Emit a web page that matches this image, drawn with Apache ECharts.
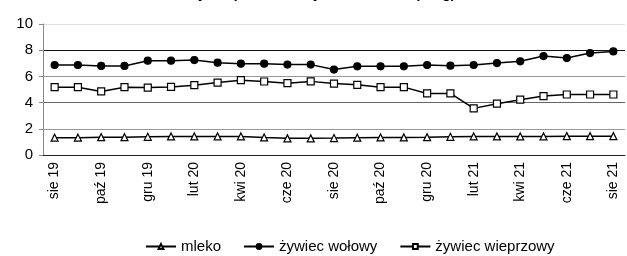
<!DOCTYPE html>
<html>
<head>
<meta charset="utf-8">
<script src="https://cdn.jsdelivr.net/npm/echarts@6/dist/echarts.min.js"></script>
<style>
  html, body { margin: 0; padding: 0; background: #fff; }
  #chart { width: 627px; height: 256px; }
</style>
</head>
<body>
<div id="chart"></div>
<script>
const months = [
  "sie 19", "wrz 19", "paź 19", "lis 19", "gru 19", "sty 20", "lut 20", "mar 20",
  "kwi 20", "maj 20", "cze 20", "lip 20", "sie 20", "wrz 20", "paź 20", "lis 20",
  "gru 20", "sty 21", "lut 21", "mar 21", "kwi 21", "maj 21", "cze 21", "lip 21", "sie 21"
];
const mleko = [
  1.32, 1.32, 1.36, 1.36, 1.39, 1.42, 1.42, 1.42, 1.42, 1.34, 1.27, 1.27, 1.29,
  1.32, 1.34, 1.34, 1.36, 1.39, 1.42, 1.42, 1.42, 1.42, 1.44, 1.44, 1.44
];
const wolowy = [
  6.87, 6.87, 6.80, 6.80, 7.20, 7.20, 7.25, 7.05, 6.97, 6.97, 6.90, 6.90, 6.52,
  6.77, 6.77, 6.77, 6.87, 6.82, 6.87, 7.02, 7.15, 7.55, 7.40, 7.78, 7.91
];
const wieprzowy = [
  5.18, 5.18, 4.85, 5.18, 5.15, 5.20, 5.33, 5.53, 5.71, 5.61, 5.48, 5.62, 5.45,
  5.36, 5.18, 5.18, 4.70, 4.70, 3.56, 3.92, 4.22, 4.50, 4.62, 4.62, 4.62
];
const yTicks = [0, 2, 4, 6, 8, 10];
const titleText = "Ceny skupu mleka i żywca w Polsce (zł/kg)";

const chart = echarts.init(document.getElementById("chart"));
const font = "Liberation Sans, Arial, sans-serif";

function lineSeries(name, data, symbol, size, fill) {
  return {
    name: name,
    type: "line",
    data: data,
    symbol: symbol,
    symbolSize: size,
    showAllSymbol: true,
    lineStyle: { color: "#000", width: 1.5 },
    itemStyle: { color: fill, borderColor: "#000", borderWidth: 1.2 },
    emphasis: { disabled: true },
    animation: false
  };
}

const option = {
  animation: false,
  textStyle: { fontFamily: font },
  title: {
    text: titleText,
    left: "center",
    top: -18,
    textStyle: { fontSize: 14, fontWeight: "bold", color: "#000", fontFamily: font }
  },
  grid: { left: 43, right: 2, top: 24, bottom: 101, containLabel: false },
  legend: {
    left: 140,
    top: 234,
    itemWidth: 30,
    itemHeight: 6,
    itemGap: 22,
    textStyle: { fontSize: 15, color: "#000", fontFamily: font },
    data: ["mleko", "żywiec wołowy", "żywiec wieprzowy"]
  },
  xAxis: {
    type: "category",
    data: months,
    boundaryGap: true,
    axisLine: { lineStyle: { color: "#222", width: 1 } },
    axisTick: { interval: 1, length: 5, lineStyle: { color: "#222" } },
    axisLabel: { interval: 1, rotate: 90, margin: 7, fontSize: 14, color: "#000", fontFamily: font },
    splitLine: { show: false }
  },
  yAxis: {
    type: "value",
    min: yTicks[0],
    max: yTicks[yTicks.length - 1],
    interval: 2,
    axisLine: { show: true, lineStyle: { color: "#888" } },
    axisTick: { show: true, length: 4, lineStyle: { color: "#888" } },
    axisLabel: { fontSize: 15, color: "#000", margin: 10, fontFamily: font },
    splitLine: {
      lineStyle: { color: ["#000", "#999", "#666", "#999", "#111", "#e2e2e2"], width: 1 }
    }
  },
  series: [
    lineSeries("mleko", mleko, "triangle", 7, "#fff"),
    lineSeries("żywiec wołowy", wolowy, "circle", 7, "#000"),
    lineSeries("żywiec wieprzowy", wieprzowy, "rect", 7, "#fff")
  ]
};

chart.setOption(option);
</script>
</body>
</html>
